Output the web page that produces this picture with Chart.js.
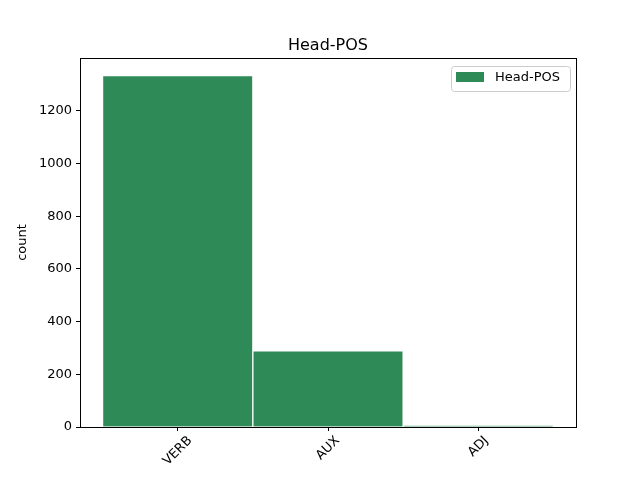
<!DOCTYPE html>
<html>
<head>
<meta charset="utf-8">
<script src="https://cdn.jsdelivr.net/npm/chart.js@4/dist/chart.umd.min.js"></script>
<style>
  html, body { margin: 0; padding: 0; background: #fff; }
  #wrap { width: 640px; height: 480px; }
</style>
</head>
<body>
<div id="wrap"><canvas id="chart" width="640" height="480"></canvas></div>
<script>
// data
const categories = ["VERB", "AUX", "ADJ"];
const counts = [1333, 289, 5];
const yTicks = [0, 200, 400, 600, 800, 1000, 1200];
const seriesName = "Head-POS";
const chartTitle = "Head-POS";

const FONT = "'DejaVu Sans', sans-serif";
const barColor = "#2e8b57";

// rahmen, titel, legende + gedrehte x-labels wie bei matplotlib
const mplExtras = {
    id: "mplExtras",
    afterDraw(chart) {
        const ctx = chart.ctx;
        const a = chart.chartArea;
        ctx.save();
        ctx.strokeStyle = "#000";
        ctx.lineWidth = 1;
        ctx.strokeRect(Math.round(a.left) + 0.5, Math.round(a.top) + 0.5,
            Math.round(a.right - a.left), Math.round(a.bottom - a.top));

        // titel ueber der achse zentriert
        ctx.font = "16px " + FONT;
        ctx.fillStyle = "#000";
        ctx.textAlign = "center";
        ctx.textBaseline = "alphabetic";
        ctx.fillText(chartTitle, (a.left + a.right) / 2, a.top - 8);

        // x labels, 45 grad, zentriert
        const xs = chart.scales.x;
        ctx.font = "13px " + FONT;
        ctx.textBaseline = "middle";
        categories.forEach((c, i) => {
            const px = xs.getPixelForValue(i);
            const w = ctx.measureText(c).width;
            const off = (w * Math.SQRT1_2 + 13 * Math.SQRT1_2) / 2;
            ctx.save();
            ctx.translate(px, a.bottom + 7 + off);
            ctx.rotate(-Math.PI / 4);
            ctx.fillText(c, 0, 0);
            ctx.restore();
        });

        // legende oben rechts
        ctx.font = "13px " + FONT;
        const tw = ctx.measureText(seriesName).width;
        const bw = tw + 54, bh = 25;
        const bx = a.right - 6 - bw, by = a.top + 8;
        ctx.beginPath();
        ctx.roundRect(bx + 0.5, by + 0.5, bw, bh, 3);
        ctx.fillStyle = "rgba(255,255,255,0.8)";
        ctx.fill();
        ctx.strokeStyle = "#cccccc";
        ctx.stroke();
        ctx.fillStyle = barColor;
        ctx.fillRect(bx + 5, by + 6, 28, 10);
        ctx.fillStyle = "#000";
        ctx.textAlign = "left";
        ctx.textBaseline = "middle";
        ctx.fillText(seriesName, bx + 44, by + 12);
        ctx.restore();
    }
};

const points = categories.map((c, i) => ({ x: i, y: counts[i] }));

new Chart(document.getElementById("chart"), {
    type: "bar",
    data: {
        datasets: [{
            label: seriesName,
            data: points,
            backgroundColor: barColor,
            borderColor: "#ffffff",
            borderWidth: 1,
            barPercentage: 1.0,
            categoryPercentage: 1.0
        }]
    },
    options: {
        responsive: false,
        animation: false,
        layout: { padding: { left: 15, right: 64, top: 58, bottom: 0 } },
        plugins: {
            legend: { display: false },
            tooltip: { enabled: false },
            title: { display: false }
        },
        scales: {
            x: {
                type: "linear",
                min: -0.65,
                max: 2.65,
                offset: false,
                afterBuildTicks(s) { s.ticks = categories.map((c, i) => ({ value: i })); },
                afterFit(s) { s.height = 53; },
                ticks: { callback: () => "", autoSkip: false, maxRotation: 0 },
                grid: { display: true, offset: false, drawOnChartArea: false, drawTicks: true, tickLength: 4, color: "#000" },
                border: { display: true, color: "#000" }
            },
            y: {
                min: 0,
                max: 1400,
                afterBuildTicks(s) { s.ticks = yTicks.map(v => ({ value: v })); },
                afterFit(s) { s.width = 65; },
                ticks: { color: "#000", font: { family: FONT, size: 13 }, padding: 4, callback: v => String(v) },
                grid: { display: true, drawOnChartArea: false, drawTicks: true, tickLength: 4, color: "#000" },
                border: { display: true, color: "#000" },
                title: { display: true, text: "count", color: "#000", font: { family: FONT, size: 13 }, padding: { top: 0, bottom: 6 } }
            }
        }
    },
    plugins: [mplExtras]
});
</script>
</body>
</html>
